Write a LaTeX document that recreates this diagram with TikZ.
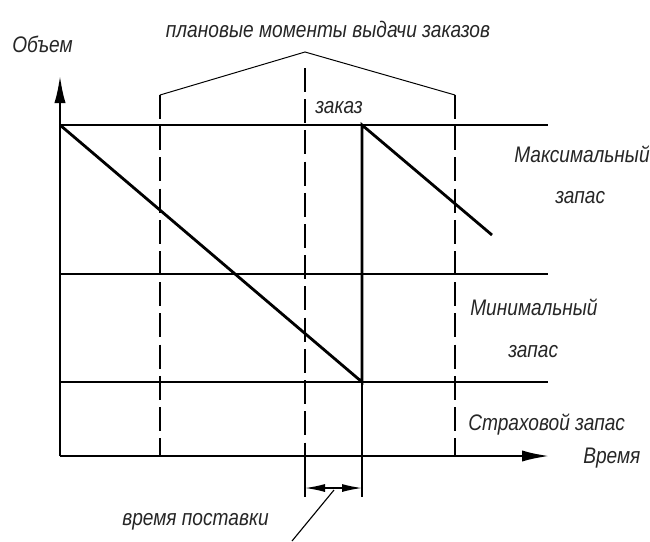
\documentclass[tikz,border=0pt]{standalone}
\usepackage{fontspec}
\setmainfont{Liberation Sans}[FakeStretch=0.85]
\usetikzlibrary{arrows.meta}

\begin{document}
\begin{tikzpicture}[
  x=0.025cm, y=-0.025cm,
  font=\fontsize{16}{18}\selectfont\itshape,
  axisline/.style={line width=2pt, -{Latex[length=0.7cm, width=0.28cm]}},
  levelline/.style={line width=1.2pt},
  stockline/.style={line width=2pt, line join=miter},
  planline/.style={line width=0.8pt, dash pattern=on 0.6cm off 0.18cm},
  bracketline/.style={line width=0.7pt},
  thinline/.style={line width=0.8pt},
  dimline/.style={line width=1pt, {Latex[length=0.5cm, width=0.2cm]}-{Latex[length=0.5cm, width=0.2cm]}},
  lbl/.style={anchor=base west, inner sep=0pt, text=black!85}
]
\useasboundingbox (0,0) rectangle (650,541);

% --- axes ---
\coordinate (origin) at (60,456);
\coordinate (ytip) at (60,75);
\coordinate (xtip) at (550,456);
\draw[axisline] (origin) -- (ytip);
\draw[axisline] (origin) -- (xtip);
\node[lbl] (volume) at (12,52) {Объем};
\node[lbl] (time) at (583,463) {Время};

% --- stock levels ---
\foreach \y in {125, 274, 382}
  \draw[levelline] (60,\y) -- (548,\y);
\node[lbl] (maxa) at (514,162) {Максимальный};
\node[lbl] (maxb) at (555,203) {запас};
\node[lbl] (mina) at (470,315) {Минимальный};
\node[lbl] (minb) at (508,357) {запас};
\node[lbl] (safe) at (468,430) {Страховой запас};

% --- planned moments of order release ---
\coordinate (plan1) at (160,95);
\coordinate (plan2) at (305,68);
\coordinate (plan3) at (455,95);
\coordinate (apex) at (305,52);
\draw[planline] (plan1) -- (160,456);
\draw[planline] (plan2) -- (305,456);
\draw[planline] (plan3) -- (455,456);
\draw[bracketline] (plan1) -- (apex) -- (plan3);
\node[lbl, anchor=base] (plan) at (328,37) {плановые моменты выдачи заказов};
\node[lbl] (order) at (315,113) {заказ};

% --- stock curve ---
\coordinate (top1) at (60,125);
\coordinate (low) at (362,382);
\coordinate (top2) at (362,125);
\coordinate (end) at (492,235);
\draw[stockline] (top1) -- (low) -- (top2) -- (end);

% --- lead time ---
\coordinate (dimL) at (305,488);
\coordinate (dimR) at (362,488);
\coordinate (dimM) at (334,490);
\coordinate (leadend) at (292,541);
\draw[thinline] (305,456) -- (305,497);
\draw[thinline] (low) -- (362,497);
\draw[dimline] (dimL) -- (dimR);
\draw[thinline] (dimM) -- (leadend);
\node[lbl] (lead) at (122,525) {время поставки};

\end{tikzpicture}
\end{document}
